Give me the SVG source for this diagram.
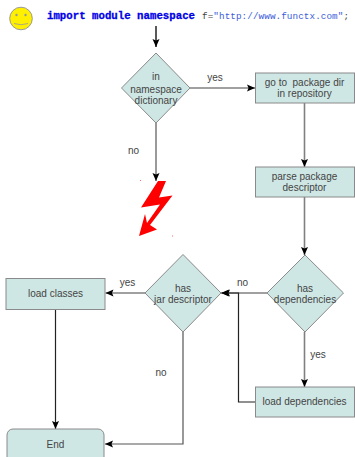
<svg xmlns="http://www.w3.org/2000/svg" width="355" height="457" viewBox="0 0 355 457">
<style>
.n{fill:#cfe7e4;stroke:#8a8a8a;stroke-width:1}
.t{font-family:"Liberation Sans",Arial,sans-serif;font-size:10px;fill:#444;text-anchor:middle}
.g{fill:none;stroke:#808080;stroke-width:1.6}
.k{fill:none;stroke:#222;stroke-width:1.2}
.m{font-family:"Liberation Mono","Courier New",monospace}
</style>
<defs>
<marker id="a" markerUnits="userSpaceOnUse" markerWidth="9" markerHeight="9" refX="8" refY="4" orient="auto"><path d="M0,0.500L8,4L0,7.500L1.500,4Z" fill="#000"/></marker>
</defs>
<rect width="355" height="457" fill="#fff"/>
<g id="smiley">
<circle cx="21" cy="18.500" r="11.300" fill="#ffef00" stroke="#999" stroke-width="1"/>
<circle cx="16.500" cy="15" r="1.200" fill="#999"/><circle cx="25.500" cy="15" r="1.200" fill="#999"/>
<path d="M14,23.500Q21,26 28,23.500" fill="none" stroke="#999" stroke-width="0.800"/>
</g>
<g id="import">
<text class="m" x="47" y="19" font-size="10.700" font-weight="bold" fill="#0000e6" stroke="#0000e6" stroke-width="0.300" textLength="148">import module namespace</text>
<text class="m" x="202" y="19" font-size="9.300" textLength="147"><tspan fill="#444">f=</tspan><tspan fill="#3b5bdb">"http://www.functx.com"</tspan><tspan fill="#444">;</tspan></text>
</g>
<g id="connectors">
<path class="k" d="M156,26V47" marker-end="url(#a)" style="stroke-width:1.500"/>
<path class="g" d="M190,88H255" marker-end="url(#a)"/>
<path class="g" d="M156,123V181" marker-end="url(#a)"/>
<path class="g" d="M304.500,103V167" marker-end="url(#a)"/>
<path class="g" d="M304.500,197V255" marker-end="url(#a)"/>
<path class="g" d="M267,293H221" marker-end="url(#a)"/>
<path class="g" d="M304.500,332V387" marker-end="url(#a)"/>
<path class="k" d="M255,402H238.500V293H222" marker-end="url(#a)"/>
<path class="g" d="M145,293H105.500" marker-end="url(#a)"/>
<path class="k" d="M55.500,309V429" marker-end="url(#a)"/>
<path class="k" d="M183,332V444H105" marker-end="url(#a)" style="stroke:#555"/>
</g>
<g id="labels">
<text class="t" x="215" y="81">yes</text>
<text class="t" x="133.500" y="154">no</text>
<text class="t" x="242.500" y="286">no</text>
<text class="t" x="318" y="358">yes</text>
<text class="t" x="127.500" y="286">yes</text>
<text class="t" x="161" y="376">no</text>
</g>
<g id="in-namespace">
<path class="n" d="M156,53L190,88L156,123L121.500,88Z"/>
<text class="t" x="156" y="80">in</text><text class="t" x="156" y="93">namespace</text><text class="t" x="156" y="104">dictionary</text>
</g>
<g id="go-to-package">
<rect class="n" x="255.500" y="73" width="99" height="30"/>
<text class="t" x="304.500" y="86" xml:space="preserve">go to  package dir</text><text class="t" x="304.500" y="97">in repository</text>
</g>
<g id="parse-descriptor">
<rect class="n" x="255.500" y="167" width="99" height="30"/>
<text class="t" x="304.500" y="180">parse package</text><text class="t" x="304.500" y="191">descriptor</text>
</g>
<g id="has-dependencies">
<path class="n" d="M305,255L343.500,293L305,332L267,293Z"/>
<text class="t" x="305" y="292">has</text><text class="t" x="305" y="303">dependencies</text>
</g>
<g id="load-dependencies">
<rect class="n" x="255.500" y="387" width="99" height="30"/>
<text class="t" x="304.500" y="405">load dependencies</text>
</g>
<g id="has-jar">
<path class="n" d="M183,254.500L221,293L183,332L145,293Z"/>
<text class="t" x="183" y="292">has</text><text class="t" x="183" y="303">jar descriptor</text>
</g>
<g id="load-classes">
<rect class="n" x="6" y="278.500" width="99" height="31"/>
<text class="t" x="55.500" y="297">load classes</text>
</g>
<g id="end">
<rect class="n" x="7" y="429" width="97" height="34" rx="6"/>
<text class="t" x="55.500" y="448">End</text>
</g>
<g id="bolt">
<path d="M158,181L166,181L159,197.500L172.500,195.500L150,225L157,229.500L139,236L145,214L147,223L160,204.500L141,207.500Z" fill="#f00"/>
<rect x="140" y="180" width="1" height="1" fill="#f66"/><rect x="172" y="235.500" width="1" height="1" fill="#f66"/>
</g>
</svg>
